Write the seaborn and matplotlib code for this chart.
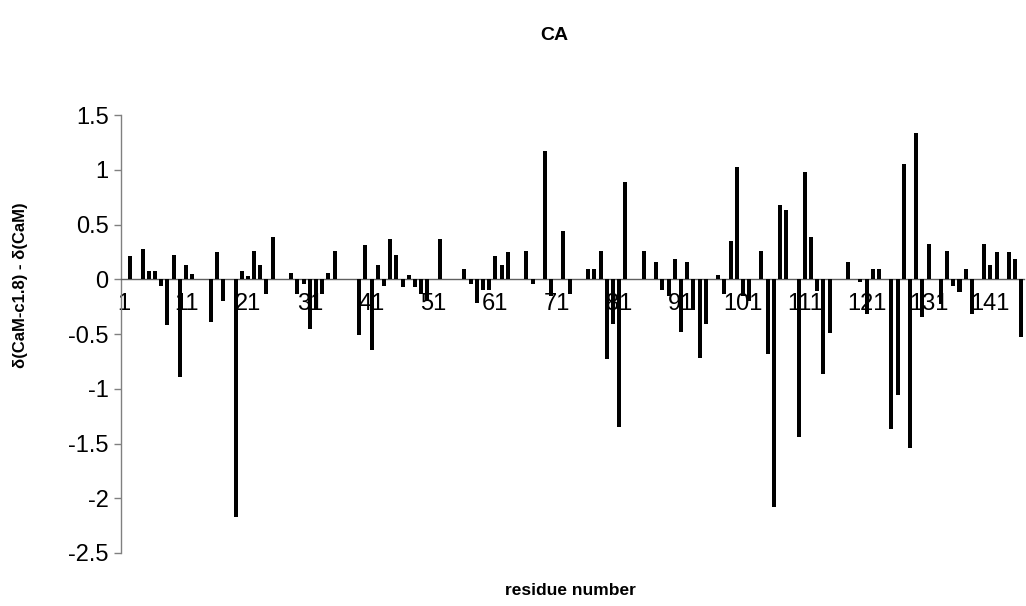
import numpy as np
import pandas as pd
import matplotlib
matplotlib.use("Agg")
import matplotlib.pyplot as plt
import seaborn as sns

nan = np.nan

# Residue numbers along the sequence
residues = list(range(1, 147))

# Chemical shift difference of CA per residue (nan = no data)
shift = [
    nan, 0.21, nan, 0.28, 0.08, 0.08, -0.06, -0.42, 0.225, -0.89,      # 1-10
    0.13, 0.05, nan, nan, -0.39, 0.25, -0.20, nan, -2.17, 0.08,        # 11-20
    0.03, 0.26, 0.13, -0.13, 0.39, nan, nan, 0.06, -0.13, -0.04,       # 21-30
    -0.45, -0.28, -0.13, 0.06, 0.26, nan, nan, nan, -0.51, 0.31,       # 31-40
    -0.65, 0.13, -0.06, 0.37, 0.225, -0.07, 0.04, -0.07, -0.13, -0.20, # 41-50
    nan, 0.37, nan, nan, nan, 0.09, -0.04, -0.22, -0.10, -0.10,        # 51-60
    0.21, 0.13, 0.25, nan, nan, 0.26, -0.04, nan, 1.175, -0.15,        # 61-70
    nan, 0.44, -0.13, nan, nan, 0.09, 0.09, 0.26, -0.73, -0.41,        # 71-80
    -1.35, 0.885, nan, nan, 0.26, nan, 0.155, -0.10, -0.15, 0.19,      # 81-90
    -0.48, 0.155, -0.28, -0.72, -0.41, nan, 0.04, -0.13, 0.35, 1.03,   # 91-100
    -0.15, -0.20, nan, 0.26, -0.68, -2.08, 0.68, 0.63, nan, -1.44,     # 101-110
    0.98, 0.39, -0.11, -0.865, -0.49, nan, nan, 0.155, nan, -0.02,     # 111-120
    -0.32, 0.09, 0.09, nan, -1.37, -1.06, 1.05, -1.54, 1.34, -0.34,    # 121-130
    0.32, nan, -0.225, 0.26, -0.06, -0.12, 0.09, -0.32, nan, 0.32,     # 131-140
    0.13, 0.25, nan, 0.25, 0.19, -0.53,                                # 141-146
]

tick_residues = list(range(1, 142, 10))
y_ticks = [1.5, 1, 0.5, 0, -0.5, -1, -1.5, -2, -2.5]
y_tick_labels = ["1.5", "1", "0.5", "0", "-0.5", "-1", "-1.5", "-2", "-2.5"]

sns.set_theme(style="white")
plt.rcParams["font.family"] = ["Liberation Sans", "DejaVu Sans"]
plt.rcParams["text.color"] = "black"
plt.rcParams["xtick.color"] = "black"
plt.rcParams["ytick.color"] = "black"

df = pd.DataFrame({"residue": [str(r) for r in residues], "shift": shift})

fig = plt.figure(figsize=(10.26, 6.06), dpi=100)
ax = fig.add_axes([0.118, 0.0875, 0.8805, 0.7225])

sns.barplot(data=df, x="residue", y="shift", order=[str(r) for r in residues],
            color="black", saturation=1, width=0.65, errorbar=None, ax=ax,
            linewidth=0)

# Bars sit in front of the category labels
for bar in ax.patches:
    bar.set_zorder(3)

ax.set_xlim(-0.5, len(residues) - 0.5)
ax.set_ylim(-2.5, 1.5)
ax.set_yticks(y_ticks)
ax.set_yticklabels(y_tick_labels)
ax.set_xticks([r - 1 for r in tick_residues])
ax.set_xticklabels([str(r) for r in tick_residues])

# Category axis crosses at zero
for side in ("top", "right"):
    ax.spines[side].set_visible(False)
ax.spines["bottom"].set_position(("data", 0))
ax.spines["bottom"].set_color("#606060")
ax.spines["bottom"].set_linewidth(1.0)
ax.spines["left"].set_color("#808080")
ax.spines["left"].set_linewidth(1.0)
ax.tick_params(axis="x", length=0, pad=10, labelsize=17, labelcolor="black")
ax.tick_params(axis="y", length=5, width=1, color="#808080", direction="out",
               left=True, pad=4, labelsize=17, labelcolor="black")
ax.set_xlabel("")
ax.set_ylabel("")
ax.grid(False)

fig.text(0.54, 0.942, "CA", ha="center", va="center", fontsize=14,
         fontweight="bold", color="black")
fig.text(0.556, 0.026, "residue number", ha="center", va="center", fontsize=12.5,
         fontweight="bold", color="black")
fig.text(0.02, 0.53, "δ(CaM-c1.8) - δ(CaM)", ha="center", va="center", rotation=90,
         fontsize=12, fontweight="bold", color="black")

fig.savefig("out.png", dpi=100)
